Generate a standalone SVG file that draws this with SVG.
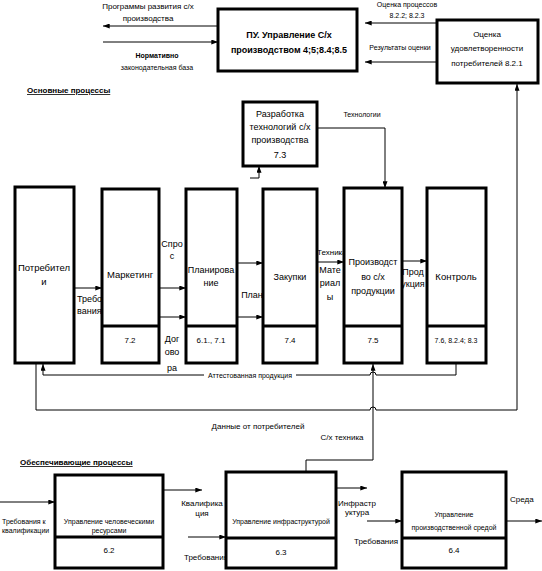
<svg xmlns="http://www.w3.org/2000/svg" width="542" height="571" viewBox="0 0 542 571">
<style>
.box{fill:#fff;stroke:#000;stroke-width:3}
.dv{stroke:#000;stroke-width:3}
.ln{fill:none;stroke:#000;stroke-width:1}
text{font-family:"Liberation Sans",Arial,sans-serif;fill:#000}
.t10{font-size:9.5px}
.t9{font-size:9px}
.t8{font-size:8px}
.t7{font-size:7px}
.b{font-weight:bold}
.m{text-anchor:middle}
</style>
<defs>
<marker id="a" viewBox="0 0 8 6" refX="8" refY="3" markerWidth="7" markerHeight="5" orient="auto" markerUnits="userSpaceOnUse"><path d="M0,0 L8,3 L0,6z" fill="#000"/></marker>
</defs>
<rect width="542" height="571" fill="#fff"/>

<g id="connectors">
<path class="ln" d="M218,26 H103" marker-end="url(#a)"/>
<path class="ln" d="M103,42 H218" marker-end="url(#a)"/>
<path class="ln" d="M437,23 H365" marker-end="url(#a)"/>
<path class="ln" d="M437,62 H365" marker-end="url(#a)"/>
<path class="ln" d="M317,128 H385 V188" marker-end="url(#a)"/>
<path class="ln" d="M250,178 H259 V166" marker-end="url(#a)"/>
<path class="ln" d="M74,288 H102" marker-end="url(#a)"/>
<path class="ln" d="M159,288 H186" marker-end="url(#a)"/>
<path class="ln" d="M159,317 H186" marker-end="url(#a)"/>
<path class="ln" d="M237,263 H263" marker-end="url(#a)"/>
<path class="ln" d="M237,317 H263" marker-end="url(#a)"/>
<path class="ln" d="M317,262 H344" marker-end="url(#a)"/>
<path class="ln" d="M402,261 H427" marker-end="url(#a)"/>
<path class="ln" d="M456,363 V375 H376 A3,3 0 0 0 370,375 H296"/>
<path class="ln" d="M204,375 H43 V364" marker-end="url(#a)"/>
<path class="ln" d="M36,363 V410 H370 A3,3 0 0 1 376,410 H517 V84" marker-end="url(#a)"/>
<path class="ln" d="M306,472 V460 H373 V364" marker-end="url(#a)"/>
<path class="ln" d="M0,502 H55" marker-end="url(#a)"/>
<path class="ln" d="M163,490 H202" marker-end="url(#a)"/>
<path class="ln" d="M188,537 H226" marker-end="url(#a)"/>
<path class="ln" d="M336,488 H367" marker-end="url(#a)"/>
<path class="ln" d="M367,521 H402" marker-end="url(#a)"/>
<path class="ln" d="M506,521 H542" marker-end="url(#a)"/>
</g>

<g id="labels">
<text class="t8 m" x="148" y="9">Программы развития с/х</text>
<text class="t8 m" x="148" y="21">производства</text>
<text class="t7 m b" x="157" y="58">Нормативно</text>
<text class="t7 m" x="157" y="70">законодательная база</text>
<text class="t7 m" x="407" y="7">Оценка процессов</text>
<text class="t7 m" x="407" y="18">8.2.2; 8.2.3</text>
<text class="t7 m" x="400" y="50">Результаты оценки</text>
<text class="t8 b" x="27" y="93" text-decoration="underline">Основные процессы</text>
<text class="t7 m" x="362" y="117">Технологии</text>
<text class="t9" x="77" y="302">Требо</text>
<text class="t9" x="77" y="314">вания</text>
<text class="t9 m" x="172" y="247">Спро</text>
<text class="t9 m" x="172" y="259">с</text>
<text class="t9 m" x="172" y="342">Дог</text>
<text class="t9 m" x="172" y="355">ово</text>
<text class="t9 m" x="172" y="371">ра</text>
<text class="t9 m" x="252" y="298">План</text>
<text class="t8" x="317" y="255">Техника</text>
<text class="t9 m" x="330" y="273">Мате</text>
<text class="t9 m" x="330" y="286">риал</text>
<text class="t9 m" x="330" y="300">ы</text>
<text class="t9 m" x="413" y="275">Прод</text>
<text class="t9 m" x="413" y="287">укция</text>
<text class="t7 m" x="250" y="378">Аттестованная продукция</text>
<text class="t8 m" x="258" y="429">Данные от потребителей</text>
<text class="t8 m" x="342" y="440">С/х техника</text>
<text class="t8 b" x="20" y="465" text-decoration="underline">Обеспечивающие процессы</text>
<text class="t7" x="2" y="524">Требования к</text>
<text class="t7" x="2" y="533">квалификации</text>
<text class="t8 m" x="202" y="506">Квалифика</text>
<text class="t8 m" x="202" y="516">ция</text>
<text class="t8 m" x="206" y="560">Требования</text>
<text class="t8 m" x="357" y="506">Инфрастр</text>
<text class="t8 m" x="357" y="515">уктура</text>
<text class="t8 m" x="376" y="544">Требования</text>
<text class="t8" x="510" y="502">Среда</text>
</g>

<g id="pu">
<rect class="box" x="218" y="9" width="139" height="62"/>
<text class="t9 m b" x="289" y="38">ПУ. Управление С/х</text>
<text class="t9 m b" x="289" y="53">производством  4;5;8.4;8.5</text>
</g>
<g id="ocenka">
<rect class="box" x="437" y="20" width="101" height="63"/>
<text class="t8 m" x="487" y="37">Оценка</text>
<text class="t8 m" x="487" y="51">удовлетворенности</text>
<text class="t8 m" x="487" y="66">потребителей 8.2.1</text>
</g>
<g id="tech">
<rect class="box" x="243" y="102" width="74" height="64"/>
<text class="t9 m" x="280" y="117">Разработка</text>
<text class="t9 m" x="280" y="130">технологий с/х</text>
<text class="t9 m" x="280" y="143">производства</text>
<text class="t9 m" x="280" y="158">7.3</text>
</g>
<g id="potrebiteli">
<rect class="box" x="15" y="187" width="59" height="176"/>
<text class="t10 m" x="44" y="271">Потребител</text>
<text class="t10 m" x="44" y="285">и</text>
</g>
<g id="marketing">
<rect class="box" x="102" y="189" width="57" height="174"/>
<line class="dv" x1="102" y1="326" x2="159" y2="326"/>
<text class="t10 m" x="130" y="278">Маркетинг</text>
<text class="t8 m" x="130" y="343">7.2</text>
</g>
<g id="planning">
<rect class="box" x="186" y="189" width="51" height="174"/>
<line class="dv" x1="186" y1="326" x2="237" y2="326"/>
<text class="t9 m" x="211" y="273">Планирова</text>
<text class="t9 m" x="211" y="286">ние</text>
<text class="t8 m" x="211" y="343">6.1., 7.1</text>
</g>
<g id="zakupki">
<rect class="box" x="263" y="189" width="54" height="174"/>
<line class="dv" x1="263" y1="326" x2="317" y2="326"/>
<text class="t9 m" x="290" y="280">Закупки</text>
<text class="t8 m" x="290" y="343">7.4</text>
</g>
<g id="production">
<rect class="box" x="344" y="188" width="58" height="175"/>
<line class="dv" x1="344" y1="326" x2="402" y2="326"/>
<text class="t9 m" x="373" y="265">Производст</text>
<text class="t9 m" x="373" y="280">во с/х</text>
<text class="t9 m" x="373" y="294">продукции</text>
<text class="t8 m" x="373" y="343">7.5</text>
</g>
<g id="control">
<rect class="box" x="427" y="188" width="59" height="175"/>
<line class="dv" x1="427" y1="326" x2="486" y2="326"/>
<text class="t10 m" x="456" y="280">Контроль</text>
<text class="t7 m" x="456" y="343">7.6, 8.2.4; 8.3</text>
</g>
<g id="hr">
<rect class="box" x="55" y="475" width="108" height="93"/>
<line class="dv" x1="55" y1="537" x2="163" y2="537"/>
<text class="t7 m" x="109" y="524">Управление человеческими</text>
<text class="t7 m" x="109" y="533">ресурсами</text>
<text class="t8 m" x="109" y="553">6.2</text>
</g>
<g id="infra">
<rect class="box" x="226" y="472" width="110" height="96"/>
<line class="dv" x1="226" y1="538" x2="336" y2="538"/>
<text class="t7 m" x="281" y="524">Управление инфраструктурой</text>
<text class="t8 m" x="281" y="555">6.3</text>
</g>
<g id="env">
<rect class="box" x="402" y="472" width="104" height="96"/>
<line class="dv" x1="402" y1="538" x2="506" y2="538"/>
<text class="t7 m" x="454" y="517">Управление</text>
<text class="t7 m" x="454" y="530">производственной средой</text>
<text class="t8 m" x="454" y="553">6.4</text>
</g>
</svg>
